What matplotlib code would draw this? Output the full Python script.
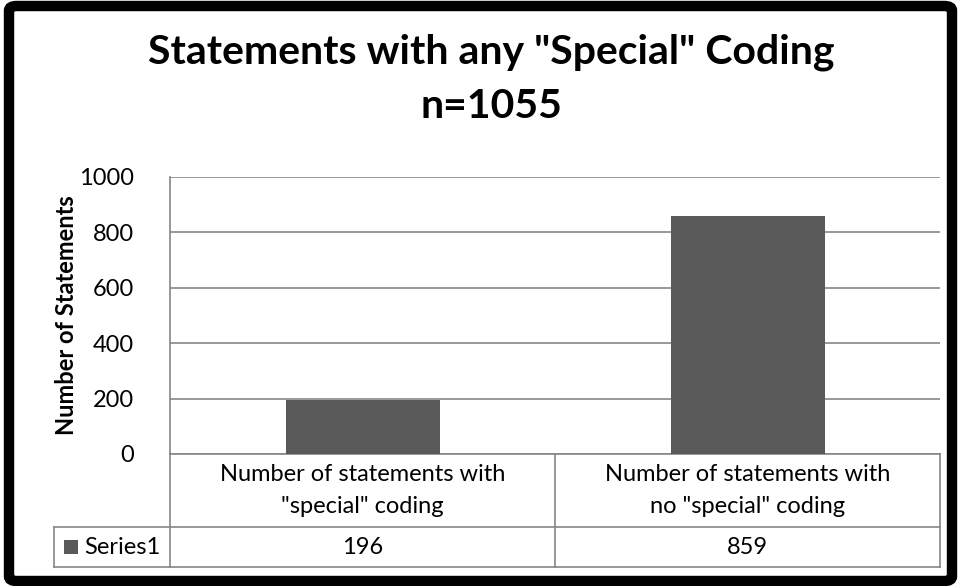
import matplotlib
matplotlib.use("Agg")
from matplotlib import pyplot as plt
from matplotlib.patches import FancyBboxPatch, Rectangle
from matplotlib.lines import Line2D
import matplotlib.transforms as mtransforms

plt.rcParams['font.family'] = ['Lato', 'DejaVu Sans']

# Data
categories = ["Number of statements with\n\"special\" coding",
              "Number of statements with\nno \"special\" coding"]
values = [196, 859]
seriesName = "Series1"
titleText = "Statements with any \"Special\" Coding\nn=1055"
yTicks = [0, 200, 400, 600, 800, 1000]

barColour = "#595959"
gridColour = "#868686"
txtSize = 17

W, H = 961, 586
fig = plt.figure(figsize=(W / 100, H / 100), dpi=100)

# axes placed in pixel terms of the reference
left, right, top, bottom = 170, 940, 177, 454
ax = fig.add_axes([left / W, 1 - bottom / H, (right - left) / W, (bottom - top) / H])

xs = list(range(len(values)))
ax.bar(xs, values, width=0.4, color=barColour, zorder=3)
ax.set_xlim(-0.5, len(values) - 0.5)
ax.set_ylim(0, 1000)
ax.set_yticks(yTicks)
ax.set_yticklabels([str(t) for t in yTicks], fontsize=txtSize)
ax.tick_params(axis='y', length=0, pad=26)
ax.set_xticks([])
ax.grid(axis='y', color=gridColour, linewidth=1.2, zorder=0)
for s in ['top', 'right', 'bottom']:
    ax.spines[s].set_visible(False)
ax.spines['left'].set_color(gridColour)
ax.spines['left'].set_linewidth(1.2)

ax.set_ylabel("Number of Statements", fontsize=txtSize, fontweight='bold', labelpad=1)

fig.text(491 / W, 1 - 79 / H, titleText, fontsize=29.5, fontweight='bold',
         ha='center', va='center', linespacing=1.55)

# Data table below the plot (x in data coords, y in axes fraction)
axH = bottom - top
axW = right - left
row1 = -(527 - bottom) / axH
row2 = -(567 - bottom) / axH
labelLeft = -(left - 54) / axW
trans = mtransforms.blended_transform_factory(ax.transData, ax.transAxes)
tAx = ax.transAxes
lineKw = dict(color=gridColour, linewidth=1.2, clip_on=False)

# horizontal lines
ax.add_line(Line2D([-0.5, 1.5], [0, 0], transform=trans, **lineKw))
ax.add_line(Line2D([labelLeft, 1], [row1, row1], transform=tAx, **lineKw))
ax.add_line(Line2D([labelLeft, 1], [row2, row2], transform=tAx, **lineKw))
# vertical lines
ax.add_line(Line2D([0, 0], [row2, 0], transform=tAx, **lineKw))
ax.add_line(Line2D([labelLeft, labelLeft], [row2, row1], transform=tAx, **lineKw))
for xb in [0.5, 1.5]:
    ax.add_line(Line2D([xb, xb], [row2, 0], transform=trans, **lineKw))

for x, cat, v in zip(xs, categories, values):
    ax.text(x, row1 / 2, cat, transform=trans, ha='center', va='center',
            fontsize=txtSize, linespacing=1.7, clip_on=False)
    ax.text(x, (row1 + row2) / 2, str(v), transform=trans, ha='center', va='center',
            fontsize=txtSize, clip_on=False)

# legend key + series name
keyX = (64 - left) / axW
keyW = 14 / axW
keyH = 14 / axH
ax.add_patch(Rectangle((keyX, (row1 + row2) / 2 - keyH / 2), keyW, keyH,
                       transform=tAx, facecolor=barColour, edgecolor='none', clip_on=False))
ax.text((84 - left) / axW, (row1 + row2) / 2, seriesName, transform=tAx,
        ha='left', va='center', fontsize=txtSize, clip_on=False)

# thick rounded outer border
border = FancyBboxPatch((9 / W, 5 / H), (W - 18) / W, (H - 11) / H,
                        boxstyle="round,pad=0,rounding_size=0.008",
                        transform=fig.transFigure, facecolor='none',
                        edgecolor='black', linewidth=7.5, zorder=10)
fig.patches.append(border)

fig.savefig("out.png", dpi=100, facecolor='white')
